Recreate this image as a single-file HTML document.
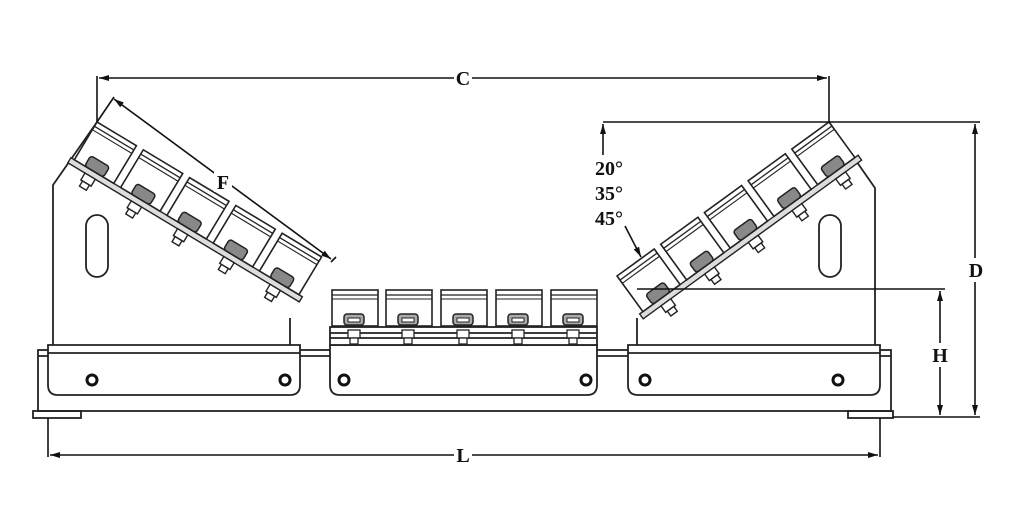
<!DOCTYPE html>
<html><head><style>
html,body{margin:0;padding:0;background:#fff;}
svg{display:block;}
text{font-family:"Liberation Serif",serif;fill:#111;}
</style></head><body>
<svg width="1030" height="516" viewBox="0 0 1030 516" xmlns="http://www.w3.org/2000/svg">
<defs>
<marker id="a" viewBox="0 0 10 6" refX="10" refY="3" markerWidth="10" markerHeight="6" orient="auto-start-reverse" markerUnits="userSpaceOnUse"><path d="M0,0 L10,3 L0,6 z" fill="#111"/></marker>
<g id="roller">
 <rect x="0" y="0" width="46" height="36" fill="#fff" stroke="#222" stroke-width="1.6"/>
 <line x1="0" y1="5" x2="46" y2="5" stroke="#222" stroke-width="1.3"/>
 <line x1="0" y1="9" x2="46" y2="9" stroke="#222" stroke-width="1.1"/>
 <rect x="12" y="24" width="20" height="11" rx="3" fill="#aaa" stroke="#222" stroke-width="1.5"/>
 <rect x="16" y="28" width="12" height="4" fill="#fff" stroke="#222" stroke-width="1"/>
 <rect x="16" y="40" width="12" height="8" fill="#fff" stroke="#222" stroke-width="1.3"/>
 <rect x="18" y="48" width="8" height="6" fill="#fff" stroke="#222" stroke-width="1.3"/>
</g>
<g id="wr">
 <rect x="0" y="0" width="46" height="44" fill="#fff" stroke="#222" stroke-width="1.6"/>
 <line x1="0" y1="5" x2="46" y2="5" stroke="#222" stroke-width="1.3"/>
 <line x1="0" y1="9" x2="46" y2="9" stroke="#222" stroke-width="1.1"/>
 <rect x="12" y="32" width="22" height="12" rx="3" fill="#888" stroke="#222" stroke-width="1.5"/>
 <rect x="16" y="50" width="12" height="8" fill="#fff" stroke="#222" stroke-width="1.4"/>
 <rect x="18" y="58" width="8" height="6" fill="#fff" stroke="#222" stroke-width="1.4"/>
</g>
</defs>
<g fill="none" stroke="#222" stroke-width="1.8">
<rect x="38" y="350" width="853" height="61"/>
<line x1="38" y1="356" x2="891" y2="356"/>
<rect x="33" y="411" width="48" height="7"/>
<rect x="848" y="411" width="45" height="7"/>
<path d="M53,345 L53,185 L97,122"/>
<line x1="290" y1="318" x2="290" y2="345"/>
<rect x="86" y="215" width="22" height="62" rx="11"/>
<path d="M875,345 L875,188 L829,122"/>
<line x1="637" y1="318" x2="637" y2="345"/>
<rect x="819" y="215" width="22" height="62" rx="11"/>
<path d="M48,345 H300 V385 Q300,395 290,395 H58 Q48,395 48,385 Z" fill="#fff"/>
<line x1="48" y1="353" x2="300" y2="353"/>
<path d="M330,345 H597 V385 Q597,395 587,395 H340 Q330,395 330,385 Z" fill="#fff"/>
<path d="M628,345 H880 V385 Q880,395 870,395 H638 Q628,395 628,385 Z" fill="#fff"/>
<line x1="628" y1="353" x2="880" y2="353"/>
<rect x="330" y="327" width="267" height="18" fill="#fff"/>
<line x1="330" y1="333" x2="597" y2="333"/>
<line x1="330" y1="338" x2="597" y2="338"/>
</g>
<g fill="#fff" stroke="#111" stroke-width="3">
<circle cx="92" cy="380" r="5"/><circle cx="285" cy="380" r="5"/>
<circle cx="344" cy="380" r="5"/><circle cx="586" cy="380" r="5"/>
<circle cx="645" cy="380" r="5"/><circle cx="838" cy="380" r="5"/>
</g>
<g>
<use href="#roller" transform="translate(332,290)"/>
<use href="#roller" transform="translate(386,290)"/>
<use href="#roller" transform="translate(441,290)"/>
<use href="#roller" transform="translate(496,290)"/>
<use href="#roller" transform="translate(551,290)"/>
</g>
<g transform="translate(97,122) rotate(31)">
<rect x="-4" y="44" width="270" height="6" fill="#ddd" stroke="#222" stroke-width="1.4"/>
<use href="#wr" transform="translate(0,0)"/>
<use href="#wr" transform="translate(54,0)"/>
<use href="#wr" transform="translate(108,0)"/>
<use href="#wr" transform="translate(162,0)"/>
<use href="#wr" transform="translate(216,0)"/>
</g>
<g transform="translate(829,122) scale(-1,1) rotate(36)">
<rect x="-4" y="44" width="270" height="6" fill="#ddd" stroke="#222" stroke-width="1.4"/>
<use href="#wr" transform="translate(0,0)"/>
<use href="#wr" transform="translate(54,0)"/>
<use href="#wr" transform="translate(108,0)"/>
<use href="#wr" transform="translate(162,0)"/>
<use href="#wr" transform="translate(216,0)"/>
</g>
<g stroke="#111" stroke-width="1.6" fill="none">
<line x1="97" y1="76" x2="97" y2="122"/>
<line x1="829" y1="76" x2="829" y2="122"/>
<line x1="99" y1="78" x2="827" y2="78" marker-start="url(#a)" marker-end="url(#a)"/>
<line x1="48" y1="418" x2="48" y2="457"/>
<line x1="880" y1="418" x2="880" y2="457"/>
<line x1="50" y1="455" x2="878" y2="455" marker-start="url(#a)" marker-end="url(#a)"/>
<line x1="603" y1="122" x2="980" y2="122"/>
<line x1="893" y1="417" x2="980" y2="417"/>
<line x1="975" y1="124" x2="975" y2="415" marker-start="url(#a)" marker-end="url(#a)"/>
<line x1="637" y1="289" x2="945" y2="289"/>
<line x1="940" y1="291" x2="940" y2="415" marker-start="url(#a)" marker-end="url(#a)"/>
<line x1="603" y1="155" x2="603" y2="124" marker-end="url(#a)"/>
<line x1="625" y1="226" x2="641" y2="257" marker-end="url(#a)"/>
<line x1="97" y1="122" x2="114" y2="97"/>
<line x1="331" y1="262" x2="336" y2="257"/>
<line x1="114" y1="99" x2="331" y2="259" marker-start="url(#a)" marker-end="url(#a)"/>
</g>
<g font-size="20" font-weight="bold">
<rect x="454" y="68" width="18" height="20" fill="#fff"/>
<text x="463" y="85" text-anchor="middle">C</text>
<rect x="454" y="444" width="18" height="20" fill="#fff"/>
<text x="463" y="462" text-anchor="middle">L</text>
<rect x="968" y="258" width="16" height="24" fill="#fff"/>
<text x="976" y="277" text-anchor="middle">D</text>
<rect x="932" y="343" width="16" height="24" fill="#fff"/>
<text x="940" y="362" text-anchor="middle">H</text>
<rect x="214" y="172" width="18" height="20" fill="#fff"/>
<text x="223" y="189" text-anchor="middle">F</text>
<text x="595" y="175">20°</text>
<text x="595" y="200">35°</text>
<text x="595" y="225">45°</text>
</g>
</svg>
</body></html>
